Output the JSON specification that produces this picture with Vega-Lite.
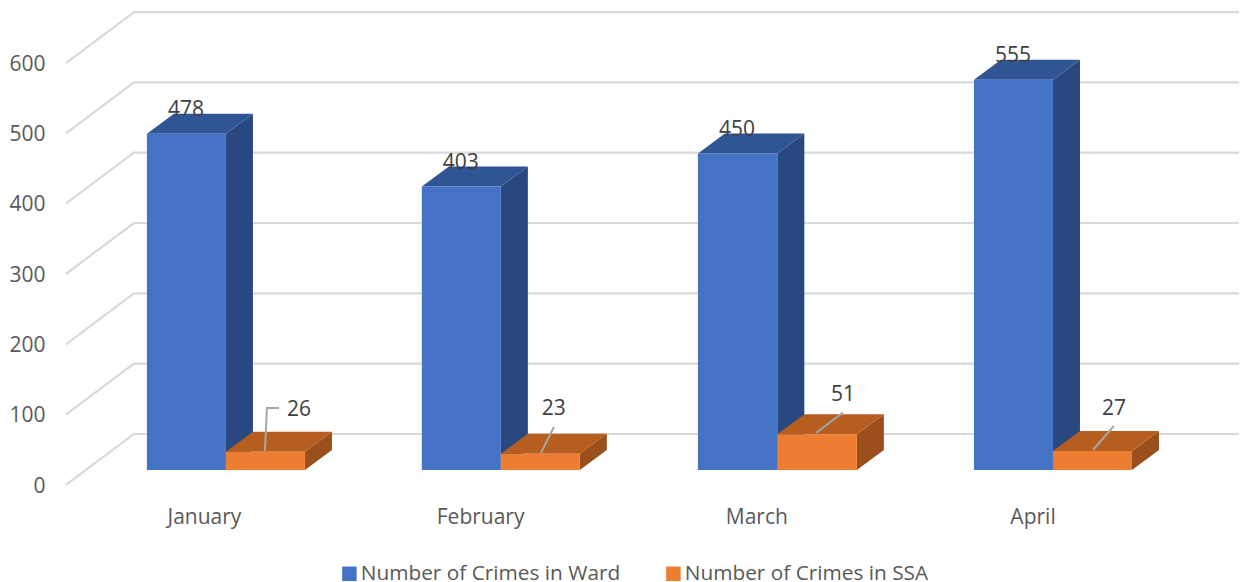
{
"$schema":"https://vega.github.io/schema/vega-lite/v6.json",
"width":1191,"height":470,
"autosize":{"type":"none"},
"padding":{"left":52,"top":0,"right":0,"bottom":112},
"background":"white",
"config":{"view":{"stroke":null},"font":"Open Sans"},
"datasets":{
"bars":[
{"month":"January","series":"Number of Crimes in Ward","x":-0.2064,"x2":0.0797,"y":478},
{"month":"February","series":"Number of Crimes in Ward","x":0.789,"x2":1.075,"y":403},
{"month":"March","series":"Number of Crimes in Ward","x":1.7886,"x2":2.076,"y":450},
{"month":"April","series":"Number of Crimes in Ward","x":2.788,"x2":3.074,"y":555},
{"month":"January","series":"Number of Crimes in SSA","x":0.0797,"x2":0.3657,"y":26},
{"month":"February","series":"Number of Crimes in SSA","x":1.075,"x2":1.361,"y":23},
{"month":"March","series":"Number of Crimes in SSA","x":2.076,"x2":2.364,"y":51},
{"month":"April","series":"Number of Crimes in SSA","x":3.074,"x2":3.36,"y":27}
],
"wardFaces":[
{"id":"Jan side","face":"Ward side","x":0.0797,"y":0,"y2":478},{"id":"Jan side","face":"Ward side","x":0.1775,"y":28.4,"y2":506.4},
{"id":"Feb side","face":"Ward side","x":1.075,"y":0,"y2":403},{"id":"Feb side","face":"Ward side","x":1.1728,"y":28.4,"y2":431.4},
{"id":"Mar side","face":"Ward side","x":2.076,"y":0,"y2":450},{"id":"Mar side","face":"Ward side","x":2.1738,"y":28.4,"y2":478.4},
{"id":"Apr side","face":"Ward side","x":3.074,"y":0,"y2":555},{"id":"Apr side","face":"Ward side","x":3.1718,"y":28.4,"y2":583.4},
{"id":"Jan top","face":"Ward top","x":-0.2064,"y":478,"y2":478},{"id":"Jan top","face":"Ward top","x":-0.1086,"y":478,"y2":506.4},{"id":"Jan top","face":"Ward top","x":0.0797,"y":478,"y2":506.4},{"id":"Jan top","face":"Ward top","x":0.1775,"y":506.4,"y2":506.4},
{"id":"Feb top","face":"Ward top","x":0.789,"y":403,"y2":403},{"id":"Feb top","face":"Ward top","x":0.8868,"y":403,"y2":431.4},{"id":"Feb top","face":"Ward top","x":1.075,"y":403,"y2":431.4},{"id":"Feb top","face":"Ward top","x":1.1728,"y":431.4,"y2":431.4},
{"id":"Mar top","face":"Ward top","x":1.7886,"y":450,"y2":450},{"id":"Mar top","face":"Ward top","x":1.8864,"y":450,"y2":478.4},{"id":"Mar top","face":"Ward top","x":2.076,"y":450,"y2":478.4},{"id":"Mar top","face":"Ward top","x":2.1738,"y":478.4,"y2":478.4},
{"id":"Apr top","face":"Ward top","x":2.788,"y":555,"y2":555},{"id":"Apr top","face":"Ward top","x":2.8858,"y":555,"y2":583.4},{"id":"Apr top","face":"Ward top","x":3.074,"y":555,"y2":583.4},{"id":"Apr top","face":"Ward top","x":3.1718,"y":583.4,"y2":583.4}
],
"ssaFaces":[
{"id":"Jan side","face":"SSA side","x":0.3657,"y":0,"y2":26},{"id":"Jan side","face":"SSA side","x":0.4635,"y":28.4,"y2":54.4},
{"id":"Feb side","face":"SSA side","x":1.361,"y":0,"y2":23},{"id":"Feb side","face":"SSA side","x":1.4588,"y":28.4,"y2":51.4},
{"id":"Mar side","face":"SSA side","x":2.364,"y":0,"y2":51},{"id":"Mar side","face":"SSA side","x":2.4618,"y":28.4,"y2":79.4},
{"id":"Apr side","face":"SSA side","x":3.36,"y":0,"y2":27},{"id":"Apr side","face":"SSA side","x":3.4578,"y":28.4,"y2":55.4},
{"id":"Jan top","face":"SSA top","x":0.0797,"y":26,"y2":26},{"id":"Jan top","face":"SSA top","x":0.1775,"y":26,"y2":54.4},{"id":"Jan top","face":"SSA top","x":0.3657,"y":26,"y2":54.4},{"id":"Jan top","face":"SSA top","x":0.4635,"y":54.4,"y2":54.4},
{"id":"Feb top","face":"SSA top","x":1.075,"y":23,"y2":23},{"id":"Feb top","face":"SSA top","x":1.1728,"y":23,"y2":51.4},{"id":"Feb top","face":"SSA top","x":1.361,"y":23,"y2":51.4},{"id":"Feb top","face":"SSA top","x":1.4588,"y":51.4,"y2":51.4},
{"id":"Mar top","face":"SSA top","x":2.076,"y":51,"y2":51},{"id":"Mar top","face":"SSA top","x":2.1738,"y":51,"y2":79.4},{"id":"Mar top","face":"SSA top","x":2.364,"y":51,"y2":79.4},{"id":"Mar top","face":"SSA top","x":2.4618,"y":79.4,"y2":79.4},
{"id":"Apr top","face":"SSA top","x":3.074,"y":27,"y2":27},{"id":"Apr top","face":"SSA top","x":3.1718,"y":27,"y2":55.4},{"id":"Apr top","face":"SSA top","x":3.36,"y":27,"y2":55.4},{"id":"Apr top","face":"SSA top","x":3.4578,"y":55.4,"y2":55.4}
],
"grid":[
{"tick":0,"x":-0.4996,"y":-21.3},{"tick":0,"x":-0.2534,"y":51.2},{"tick":0,"x":3.747,"y":51.2},
{"tick":100,"x":-0.4996,"y":78.7},{"tick":100,"x":-0.2534,"y":151.2},{"tick":100,"x":3.747,"y":151.2},
{"tick":200,"x":-0.4996,"y":178.7},{"tick":200,"x":-0.2534,"y":251.2},{"tick":200,"x":3.747,"y":251.2},
{"tick":300,"x":-0.4996,"y":278.7},{"tick":300,"x":-0.2534,"y":351.2},{"tick":300,"x":3.747,"y":351.2},
{"tick":400,"x":-0.4996,"y":378.7},{"tick":400,"x":-0.2534,"y":451.2},{"tick":400,"x":3.747,"y":451.2},
{"tick":500,"x":-0.4996,"y":478.7},{"tick":500,"x":-0.2534,"y":551.2},{"tick":500,"x":3.747,"y":551.2},
{"tick":600,"x":-0.4996,"y":578.7},{"tick":600,"x":-0.2534,"y":651.2},{"tick":600,"x":3.747,"y":651.2}
],
"leaders":[
{"month":"January","x":0.2209,"y":27},{"month":"January","x":0.2281,"y":88.2},{"month":"January","x":0.2715,"y":88.2},
{"month":"February","x":1.2201,"y":24.2},{"month":"February","x":1.2672,"y":61.1},
{"month":"March","x":2.2158,"y":52.6},{"month":"March","x":2.3135,"y":81.8},
{"month":"April","x":3.2187,"y":28.4},{"month":"April","x":3.2947,"y":62.6}
],
"ssaLabels":[
{"month":"January","value":26,"x":0.344,"y":85.3},
{"month":"February","value":23,"x":1.267,"y":86.8},
{"month":"March","value":51,"x":2.3135,"y":106.7},
{"month":"April","value":27,"x":3.2947,"y":86.8}
]
},
"encoding":{
"x":{"field":"x","type":"quantitative","title":null,"scale":{"domain":[-0.55,3.762],"nice":false,"zero":false},
"axis":{"values":[0,1,2,3],"labelExpr":"['January','February','March','April'][datum.value]","domain":false,"ticks":false,"grid":false,"labelPadding":36,"labelFontSize":21,"labelColor":"#595959","labelFont":"Open Sans","labelFlush":false,"labelOverlap":false}},
"y":{"field":"y","type":"quantitative","title":null,"scale":{"domain":[0,668.3],"nice":false,"zero":false},
"axis":{"values":[0,100,200,300,400,500,600],"labelOffset":16,"domain":false,"ticks":false,"grid":false,"labelPadding":7,"labelFontSize":21,"labelColor":"#595959","labelFont":"Open Sans","labelOverlap":false,"labelBound":false}}
},
"layer":[
{"data":{"name":"grid"},"mark":{"type":"line","color":"#d9d9d9","strokeWidth":2.2,"clip":false},"encoding":{"detail":{"field":"tick"}}},
{"data":{"name":"wardFaces"},"mark":{"type":"area","clip":false},"encoding":{"y2":{"field":"y2"},"detail":{"field":"id"},
"color":{"field":"face","type":"nominal"}}},
{"data":{"name":"bars"},"transform":[{"filter":"datum.series==='Number of Crimes in Ward'"}],"mark":{"type":"bar"},"encoding":{"x2":{"field":"x2"},"y2":{"datum":0},
"color":{"field":"series","type":"nominal","title":null,"scale":{"domain":["Number of Crimes in Ward","Number of Crimes in SSA","Ward top","Ward side","SSA top","SSA side"],"range":["#4472c4","#ed7d31","#305595","#2a4880","#b55e20","#9a4f1c"]},
"legend":{"values":["Number of Crimes in Ward","Number of Crimes in SSA"],"orient":"none","direction":"horizontal","legendX":287,"legendY":563,"symbolType":"square","symbolSize":210,"symbolStrokeWidth":0,"labelFontSize":20.8,"labelColor":"#595959","labelFont":"Open Sans","columnPadding":42,"labelOffset":1,"labelLimit":400}}}},
{"data":{"name":"ssaFaces"},"mark":{"type":"area","clip":false},"encoding":{"y2":{"field":"y2"},"detail":{"field":"id"},
"color":{"field":"face","type":"nominal"}}},
{"data":{"name":"bars"},"transform":[{"filter":"datum.series==='Number of Crimes in SSA'"}],"mark":{"type":"bar"},"encoding":{"x2":{"field":"x2"},"y2":{"datum":0},
"color":{"field":"series","type":"nominal"}}},
{"data":{"name":"leaders"},"mark":{"type":"line","color":"#a6a6a6","strokeWidth":2,"clip":false},"encoding":{"detail":{"field":"month"}}},
{"data":{"name":"bars"},"transform":[{"filter":"datum.series==='Number of Crimes in Ward'"}],"mark":{"type":"text","align":"center","baseline":"middle","dx":39,"dy":-23.5,"fontSize":21,"font":"Open Sans","color":"#404040"},"encoding":{"text":{"field":"y","type":"quantitative"}}},
{"data":{"name":"ssaLabels"},"mark":{"type":"text","align":"center","baseline":"middle","fontSize":21,"font":"Open Sans","color":"#404040"},"encoding":{"text":{"field":"value","type":"quantitative"}}}
]
}
